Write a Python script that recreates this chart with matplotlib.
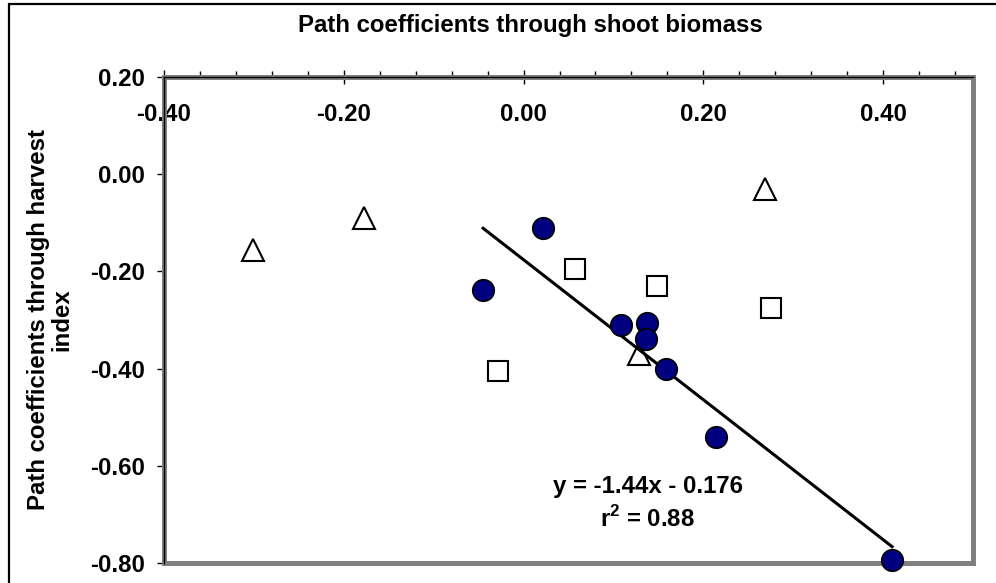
import matplotlib
matplotlib.use("Agg")
import matplotlib.pyplot as plt
from matplotlib.patches import Rectangle
import numpy as np

# Data
circle_x = [-0.045, 0.022, 0.108, 0.137, 0.136, 0.158, 0.214, 0.410]
circle_y = [-0.239, -0.110, -0.311, -0.306, -0.339, -0.400, -0.541, -0.793]
square_x = [-0.028, 0.057, 0.149, 0.275]
square_y = [-0.404, -0.195, -0.231, -0.275]
triangle_x = [-0.301, -0.177, 0.269, 0.128]
triangle_y = [-0.156, -0.091, -0.031, -0.370]
fit_slope = -1.44
fit_intercept = -0.176
x_ticks = [-0.40, -0.20, 0.00, 0.20, 0.40]
y_ticks = [0.20, 0.00, -0.20, -0.40, -0.60, -0.80]

plt.rcParams['font.family'] = ['Liberation Sans', 'DejaVu Sans']
plt.rcParams['font.weight'] = 'bold'

W, H = 996, 583
fig = plt.figure(figsize=(W / 100, H / 100), dpi=100)
fig.patch.set_facecolor('white')

# outer chart border
fig.patches.append(Rectangle((8.5 / W, -0.1), 1.2, 1.1 - 4.5 / H,
                             transform=fig.transFigure, fill=False,
                             edgecolor='black', linewidth=1.6, zorder=0))

L, R, T, B = 164, 973, 77, 563
ax = fig.add_axes([L / W, 1 - B / H, (R - L) / W, (B - T) / H])
ax.set_xlim(-0.40, 0.50)
ax.set_ylim(-0.80, 0.20)

# plot-area border (grey) + black axis lines
for s in ['left', 'right', 'top', 'bottom']:
    ax.spines[s].set_color('#808080')
    ax.spines[s].set_linewidth(3.6)
ax.axhline(0.20, color='black', lw=1.0, zorder=5, clip_on=False)
ax.axvline(-0.40, color='black', lw=1.0, zorder=5, clip_on=False)

FS = 17.3

# ticks
ax.set_xticks(x_ticks)
ax.set_xticks(np.arange(-0.40, 0.50 + 1e-9, 0.04), minor=True)
ax.set_xticklabels([f"{v:.2f}" for v in x_ticks])
ax.xaxis.set_ticks_position('top')
ax.tick_params(axis='x', which='major', top=True, bottom=False,
               labeltop=True, labelbottom=False, direction='inout',
               length=9.5, width=1.0, color='black', labelsize=FS, pad=-31.5)
ax.tick_params(axis='x', which='minor', top=True, bottom=False,
               direction='out', length=4.0, width=1.0, color='black')
for lab in ax.get_xticklabels():
    lab.set_va('center')
    lab.set_fontweight('bold')

ax.set_yticks(y_ticks)
ax.set_yticklabels([f"{v:.2f}" for v in y_ticks])
ax.tick_params(axis='y', which='major', left=True, right=False,
               direction='out', length=4.8, width=1.0, color='black',
               labelsize=FS, pad=9)
for lab in ax.get_yticklabels():
    lab.set_fontweight('bold')

# data
ax.plot(triangle_x, triangle_y, linestyle='none', marker='^', ms=15.5,
        mfc='white', mec='black', mew=1.5, zorder=3, clip_on=False)
ax.plot(square_x, square_y, linestyle='none', marker='s', ms=14.5,
        mfc='white', mec='black', mew=1.5, zorder=3, clip_on=False)
xf = np.array([min(circle_x), max(circle_x)])
ax.plot(xf, fit_slope * xf + fit_intercept, color='black', lw=2.2, zorder=4)
ax.plot(circle_x, circle_y, linestyle='none', marker='o', ms=15.5,
        mfc='#000080', mec='black', mew=1.2, zorder=6, clip_on=False)

ax.text(0.138, -0.6427, "y = -1.44x - 0.176", ha='center', va='center',
        fontsize=FS, fontweight='bold')
ax.text(0.138, -0.7085, r"r$^\mathregular{2}$ = 0.88", ha='center', va='center',
        fontsize=FS, fontweight='bold')

fig.text(530 / W, 1 - 25.5 / H, "Path coefficients through shoot biomass",
         ha='center', va='center', fontsize=17.3, fontweight='bold')
fig.text(50 / W, 1 - 320 / H, "Path coefficients through harvest\nindex",
         ha='center', va='center', rotation=90, fontsize=FS,
         fontweight='bold', linespacing=1.05)

fig.savefig('out.png', dpi=100)
